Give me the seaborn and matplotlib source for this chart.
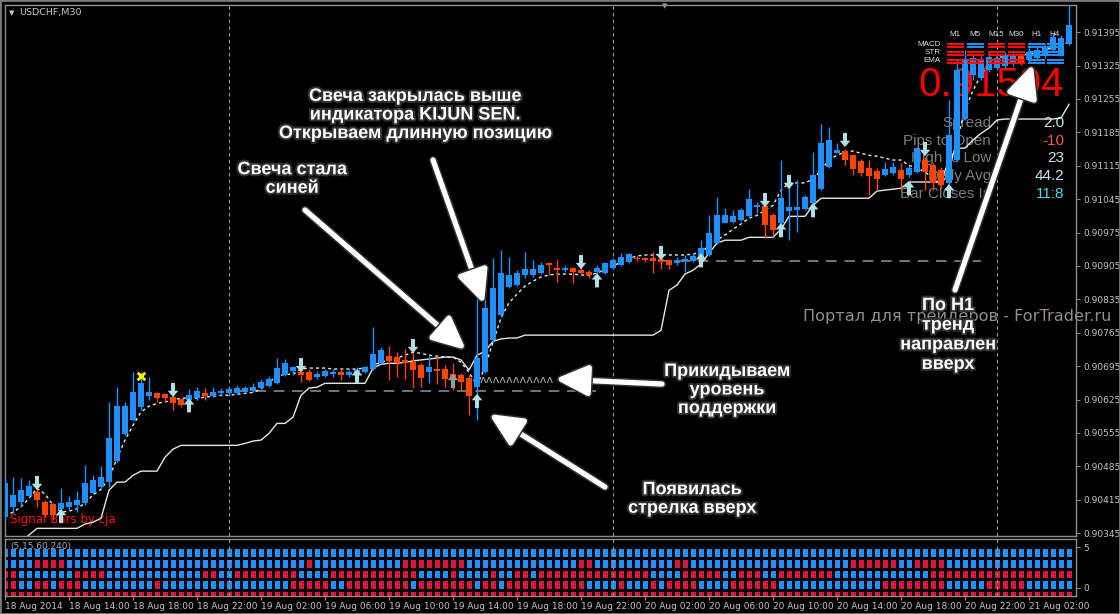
import numpy as np
import pandas as pd
import matplotlib
matplotlib.use("Agg")
import matplotlib.pyplot as plt
import matplotlib.transforms as mtransforms
import matplotlib.patheffects as pe
from matplotlib.path import Path
from matplotlib.colors import ListedColormap
from matplotlib.patches import Rectangle
import seaborn as sns

# ---- USDCHF M30 candles ----
opens = [0.90379, 0.90400, 0.90410, 0.90423, 0.90431, 0.90410, 0.90406, 0.90396, 0.90400, 0.90404,
         0.90408, 0.90429, 0.90441, 0.90452, 0.90496, 0.90553, 0.90582, 0.90609, 0.90632, 0.90638,
         0.90636, 0.90630, 0.90626, 0.90624, 0.90628, 0.90638, 0.90632, 0.90638, 0.90638, 0.90638,
         0.90640, 0.90643, 0.90649, 0.90653, 0.90659, 0.90676, 0.90685, 0.90682, 0.90682, 0.90672,
         0.90674, 0.90678, 0.90682, 0.90676, 0.90678, 0.90682, 0.90689, 0.90701, 0.90716, 0.90714,
         0.90708, 0.90703, 0.90697, 0.90682, 0.90689, 0.90689, 0.90678, 0.90676, 0.90670, 0.90651,
         0.90682, 0.90750, 0.90802, 0.90861, 0.90865, 0.90886, 0.90886, 0.90890, 0.90911, 0.90900,
         0.90896, 0.90900, 0.90896, 0.90892, 0.90892, 0.90890, 0.90900, 0.90907, 0.90913, 0.90921,
         0.90921, 0.90921, 0.90919, 0.90917, 0.90911, 0.90915, 0.90915, 0.90921, 0.90928, 0.90953,
         0.90995, 0.90997, 0.91001, 0.91009, 0.91028, 0.91030, 0.91011, 0.90995, 0.91020, 0.91022,
         0.91024, 0.91037, 0.91066, 0.91112, 0.91141, 0.91146, 0.91137, 0.91125, 0.91110, 0.91104,
         0.91095, 0.91100, 0.91106, 0.91095, 0.91102, 0.91127, 0.91116, 0.91106, 0.91079, 0.91127,
         0.91213, 0.91305, 0.91299, 0.91315, 0.91320, 0.91324, 0.91328, 0.91345, 0.91336, 0.91341,
         0.91345, 0.91357, 0.91349, 0.91370]
highs = [0.90460, 0.90462, 0.90460, 0.90456, 0.90439, 0.90414, 0.90408, 0.90439, 0.90423, 0.90433,
         0.90488, 0.90467, 0.90486, 0.90620, 0.90651, 0.90620, 0.90682, 0.90682, 0.90672, 0.90640,
         0.90638, 0.90645, 0.90628, 0.90647, 0.90651, 0.90649, 0.90651, 0.90649, 0.90651, 0.90655,
         0.90653, 0.90659, 0.90668, 0.90674, 0.90712, 0.90710, 0.90695, 0.90687, 0.90689, 0.90685,
         0.90689, 0.90689, 0.90689, 0.90687, 0.90693, 0.90695, 0.90777, 0.90735, 0.90737, 0.90724,
         0.90731, 0.90722, 0.90701, 0.90716, 0.90716, 0.90697, 0.90701, 0.90680, 0.90676, 0.90838,
         0.90871, 0.90921, 0.90938, 0.90923, 0.90896, 0.90934, 0.90917, 0.90913, 0.90913, 0.90917,
         0.90905, 0.90903, 0.90913, 0.90896, 0.90907, 0.90913, 0.90921, 0.90932, 0.90932, 0.90926,
         0.90923, 0.90934, 0.90932, 0.90919, 0.90923, 0.90928, 0.90932, 0.90959, 0.91011, 0.91049,
         0.91026, 0.91022, 0.91026, 0.91066, 0.91039, 0.91049, 0.91016, 0.91127, 0.91085, 0.91085,
         0.91053, 0.91144, 0.91202, 0.91196, 0.91162, 0.91150, 0.91137, 0.91129, 0.91127, 0.91110,
         0.91123, 0.91123, 0.91121, 0.91116, 0.91154, 0.91133, 0.91121, 0.91112, 0.91253, 0.91336,
         0.91357, 0.91347, 0.91345, 0.91353, 0.91347, 0.91353, 0.91357, 0.91351, 0.91361, 0.91366,
         0.91370, 0.91393, 0.91389, 0.91452]
lows = [0.90372, 0.90387, 0.90400, 0.90421, 0.90400, 0.90379, 0.90372, 0.90379, 0.90393, 0.90389,
        0.90404, 0.90427, 0.90439, 0.90441, 0.90494, 0.90550, 0.90580, 0.90603, 0.90624, 0.90620,
        0.90620, 0.90603, 0.90609, 0.90609, 0.90624, 0.90624, 0.90630, 0.90632, 0.90634, 0.90636,
        0.90638, 0.90640, 0.90647, 0.90651, 0.90657, 0.90674, 0.90676, 0.90661, 0.90664, 0.90668,
        0.90672, 0.90672, 0.90666, 0.90672, 0.90672, 0.90680, 0.90687, 0.90699, 0.90666, 0.90672,
        0.90668, 0.90649, 0.90651, 0.90659, 0.90657, 0.90651, 0.90645, 0.90645, 0.90592, 0.90582,
        0.90680, 0.90745, 0.90798, 0.90859, 0.90863, 0.90880, 0.90882, 0.90888, 0.90886, 0.90871,
        0.90892, 0.90869, 0.90886, 0.90880, 0.90880, 0.90888, 0.90898, 0.90905, 0.90911, 0.90915,
        0.90913, 0.90890, 0.90898, 0.90898, 0.90907, 0.90892, 0.90913, 0.90917, 0.90926, 0.90951,
        0.90995, 0.90995, 0.90999, 0.91007, 0.91016, 0.90963, 0.90965, 0.90993, 0.90959, 0.90976,
        0.91022, 0.91034, 0.91064, 0.91110, 0.91141, 0.91116, 0.91095, 0.91093, 0.91053, 0.91064,
        0.91093, 0.91095, 0.91064, 0.91091, 0.91100, 0.91064, 0.91064, 0.91068, 0.91077, 0.91123,
        0.91211, 0.91294, 0.91294, 0.91311, 0.91315, 0.91320, 0.91324, 0.91326, 0.91332, 0.91336,
        0.91341, 0.91353, 0.91345, 0.91368]
closes = [0.90450, 0.90425, 0.90435, 0.90444, 0.90414, 0.90383, 0.90383, 0.90408, 0.90410, 0.90414,
          0.90450, 0.90456, 0.90462, 0.90544, 0.90611, 0.90611, 0.90640, 0.90659, 0.90640, 0.90628,
          0.90628, 0.90617, 0.90613, 0.90634, 0.90643, 0.90632, 0.90640, 0.90643, 0.90647, 0.90649,
          0.90649, 0.90651, 0.90661, 0.90668, 0.90691, 0.90701, 0.90693, 0.90676, 0.90666, 0.90678,
          0.90685, 0.90682, 0.90676, 0.90682, 0.90687, 0.90693, 0.90720, 0.90729, 0.90706, 0.90701,
          0.90701, 0.90687, 0.90670, 0.90693, 0.90685, 0.90668, 0.90672, 0.90661, 0.90632, 0.90712,
          0.90817, 0.90859, 0.90890, 0.90886, 0.90890, 0.90898, 0.90898, 0.90907, 0.90907, 0.90896,
          0.90900, 0.90892, 0.90890, 0.90886, 0.90900, 0.90911, 0.90917, 0.90923, 0.90930, 0.90919,
          0.90917, 0.90915, 0.90913, 0.90907, 0.90917, 0.90919, 0.90926, 0.90942, 0.90974, 0.91011,
          0.91011, 0.91009, 0.91022, 0.91045, 0.91032, 0.90991, 0.90980, 0.91047, 0.91028, 0.91028,
          0.91049, 0.91095, 0.91162, 0.91169, 0.91148, 0.91127, 0.91108, 0.91100, 0.91093, 0.91087,
          0.91108, 0.91112, 0.91087, 0.91110, 0.91152, 0.91102, 0.91079, 0.91074, 0.91179, 0.91315,
          0.91338, 0.91341, 0.91336, 0.91343, 0.91341, 0.91347, 0.91347, 0.91332, 0.91353, 0.91357,
          0.91364, 0.91385, 0.91382, 0.91410]

# Kijun-sen (solid) and the dotted signal line
kijun = [0.90309, 0.90318, 0.90328, 0.90341, 0.90355, 0.90355, 0.90355, 0.90355, 0.90355, 0.90355,
         0.90364, 0.90368, 0.90376, 0.90435, 0.90452, 0.90452, 0.90466, 0.90475, 0.90475, 0.90475,
         0.90504, 0.90521, 0.90529, 0.90529, 0.90529, 0.90529, 0.90529, 0.90529, 0.90529, 0.90529,
         0.90533, 0.90538, 0.90540, 0.90554, 0.90575, 0.90575, 0.90588, 0.90634, 0.90649, 0.90651,
         0.90659, 0.90659, 0.90659, 0.90659, 0.90659, 0.90659, 0.90691, 0.90699, 0.90701, 0.90701,
         0.90703, 0.90706, 0.90708, 0.90710, 0.90712, 0.90714, 0.90714, 0.90708, 0.90687, 0.90718,
         0.90726, 0.90747, 0.90752, 0.90754, 0.90754, 0.90760, 0.90760, 0.90760, 0.90760, 0.90760,
         0.90760, 0.90760, 0.90760, 0.90760, 0.90760, 0.90760, 0.90760, 0.90760, 0.90760, 0.90760,
         0.90760, 0.90760, 0.90770, 0.90854, 0.90865, 0.90888, 0.90896, 0.90909, 0.90932, 0.90953,
         0.90959, 0.90959, 0.90959, 0.90965, 0.90965, 0.90965, 0.90965, 0.90982, 0.91009, 0.91009,
         0.91009, 0.91032, 0.91047, 0.91047, 0.91047, 0.91047, 0.91047, 0.91047, 0.91047, 0.91062,
         0.91064, 0.91066, 0.91068, 0.91081, 0.91081, 0.91081, 0.91081, 0.91081, 0.91127, 0.91152,
         0.91152, 0.91169, 0.91183, 0.91194, 0.91211, 0.91213, 0.91213, 0.91213, 0.91213, 0.91213,
         0.91213, 0.91213, 0.91215, 0.91244]
signal_line = [0.90381, 0.90389, 0.90400, 0.90418, 0.90439, 0.90427, 0.90404, 0.90389, 0.90391, 0.90396,
               0.90408, 0.90425, 0.90437, 0.90460, 0.90502, 0.90540, 0.90571, 0.90599, 0.90611, 0.90617,
               0.90620, 0.90624, 0.90628, 0.90628, 0.90628, 0.90630, 0.90632, 0.90634, 0.90634, 0.90636,
               0.90638, 0.90640, 0.90647, 0.90661, 0.90674, 0.90678, 0.90678, 0.90689, 0.90691, 0.90691,
               0.90691, 0.90689, 0.90689, 0.90689, 0.90689, 0.90691, 0.90697, 0.90703, 0.90708, 0.90712,
               0.90718, 0.90724, 0.90722, 0.90718, 0.90716, 0.90714, 0.90714, 0.90703, 0.90682, 0.90655,
               0.90693, 0.90745, 0.90796, 0.90828, 0.90846, 0.90863, 0.90873, 0.90882, 0.90886, 0.90888,
               0.90888, 0.90888, 0.90886, 0.90886, 0.90890, 0.90898, 0.90905, 0.90913, 0.90921, 0.90926,
               0.90928, 0.90928, 0.90928, 0.90928, 0.90928, 0.90928, 0.90930, 0.90934, 0.90947, 0.90959,
               0.90970, 0.90982, 0.90993, 0.91005, 0.91011, 0.91022, 0.91032, 0.91064, 0.91079, 0.91079,
               0.91079, 0.91087, 0.91106, 0.91127, 0.91137, 0.91144, 0.91146, 0.91141, 0.91137, 0.91135,
               0.91131, 0.91127, 0.91127, 0.91116, 0.91110, 0.91102, 0.91089, 0.91074, 0.91106, 0.91169,
               0.91232, 0.91273, 0.91305, 0.91332, 0.91341, 0.91345, 0.91347, 0.91347, 0.91349, 0.91353,
               0.91357, 0.91364, 0.91368, 0.91374]

# signal arrows (bar index, price)
down_bars = [4, 21, 37, 51, 72, 82, 95, 98, 105, 115]
down_prices = [0.90450, 0.90645, 0.90697, 0.90737, 0.90913, 0.90932, 0.91043, 0.91081, 0.91169, 0.91150]
up_bars = [7, 23, 44, 59, 74, 87, 97, 101, 113, 118]
up_prices = [0.90381, 0.90613, 0.90674, 0.90622, 0.90875, 0.90917, 0.90980, 0.91022, 0.91068, 0.91062]
grey_up_bars = [56]
grey_up_prices = [0.90664]
cross_bars = [17]
cross_prices = [0.90674]

support_level = 0.90643
support_from, support_to = 29, 74
h1_level = 0.90915
h1_from, h1_to = 82, 122

price_ticks = [0.90345, 0.90415, 0.90485, 0.90555, 0.90625, 0.90695, 0.90765, 0.90835,
               0.90905, 0.90975, 0.91045, 0.91115, 0.91185, 0.91255, 0.91325, 0.91395]
time_labels = ["18 Aug 2014", "18 Aug 14:00", "18 Aug 18:00", "18 Aug 22:00", "19 Aug 02:00",
               "19 Aug 06:00", "19 Aug 10:00", "19 Aug 14:00", "19 Aug 18:00", "19 Aug 22:00",
               "20 Aug 02:00", "20 Aug 06:00", "20 Aug 10:00", "20 Aug 14:00", "20 Aug 18:00",
               "20 Aug 22:00", "21 Aug 02:00"]
time_tick_bars = [0, 8, 16, 24, 32, 40, 48, 56, 64, 72, 80, 88, 96, 104, 112, 120, 128]
day_breaks = [28, 76, 124]

# lower window: signal bars (5,15,60,240), b = up, r = down
strength_rows = [
    "bbbbbbbbbb bbbbbbbbbb bbbbbbbbbb bbbbbbbbbb bbbbbbbbbb bbbbbbbbbb bbbbbbbbbb "
    "bbbbbbbbbb bbbbbbbbbb bbbbbbbbbb bbbbbbbbbb bbbbbbbbbb bbbbbbbbbb bbbb",
    "bbbbrrrrbb bbbbbbbbbb bbbbbbbbbb bbbbbbbbrb bbbbbbbbbb rrrrrrrrbb bbbbbbbbbb "
    "bbrrbbbbbb bbbbrrbbbb bbbbbbbbbb bbbbbbrrrr rrbbrrrrbb bbbbbbbbbb bbbb",
    "rrbbbbbbbr rrrbbbbbbb bbbbbrrbbr rrrrrrrbbb brrrrrrrrr rrbbbbrbbb brbbrrbrrr "
    "rrrrrrrrrr rbbbbrrrrr bbrrrbbrrr rrrrbbbbbb bbbbbbrrrr rrrrrrrrrr rrrr",
    "rrbbrrbrrr bbbbbbbbbr bbbbbbbbbb bbbbbbrrrr rbbrrrrrrr rbrrrrrrrb rrbrrrrrrr "
    "rrrbbbbrbb brbrrrrbbb brrrrrrbbb bbbbbbbbbb rrrrrrrrbb bbbrrrrrbb bbbb",
    "rrrrrrrrrr rrrrrrrrrr rrrrrrrrrr rrrrrrrrrr rrrrrrrrrr rrrrrrrrrr rrrrrrrrrr "
    "rrrrrrrrrr rrrrrrrrrr rrrrrrrrrr rrrrrrrrrr rrrrrrrrrr rrrrrrrrrr rrrr",
]

# multi timeframe panel
tf_names = ["M1", "M5", "M15", "M30", "H1", "H4"]
tf_rows = ["MACD", "STR", "EMA"]
tf_states = ["rbrrbb", "rrrrbb", "rrrrbb"]
info_labels = ["Spread", "Pips to Open", "High to Low", "Daily Avg", "Bar Closes In"]
info_values = ["2.0", "-10", "23", "44.2", "11:8"]
info_colors = ["#c8e4ec", "#f05a46", "#c8e4ec", "#c8e4ec", "#46dce6"]
last_price = "0.91594"

BLUE = "#1e90ff"
ORANGE = "#ff4500"
RED = "#dc143c"
ARROW = "#b0e0e6"
FRAME = "#8c8c8c"

W, H = 1120, 614
fig = plt.figure(figsize=(W / 100, H / 100), dpi=100, facecolor="black")


def box(x0, y0, x1, y1):
    return [x0 / W, 1 - y1 / H, (x1 - x0) / W, (y1 - y0) / H]


ax = fig.add_axes(box(5, 5, 1076, 536))
ax2 = fig.add_axes(box(5, 539, 1076, 596))
# pixel coordinates measured from the top-left corner of the picture
px = mtransforms.Affine2D().scale(1 / W, -1 / H).translate(0, 1) + fig.transFigure

df = pd.DataFrame({"bar": np.arange(len(opens)), "open": opens, "high": highs,
                   "low": lows, "close": closes, "kijun": kijun, "signal": signal_line})
bull = df["close"] >= df["open"]
colors = np.where(bull, BLUE, ORANGE)

ax.set_facecolor("black")
for b in day_breaks:
    ax.axvline(b, color="#9a9a9a", lw=0.8, ls=(0, (3, 3)), zorder=0.5)

ax.hlines(support_level, support_from, support_to, colors="#8796a5", lw=1.1,
          linestyles=(0, (7, 5)), zorder=1)
ax.hlines(h1_level, h1_from, h1_to, colors="#8796a5", lw=1.1,
          linestyles=(0, (7, 5)), zorder=1)

sns.lineplot(data=df, x="bar", y="kijun", color="#e6e6e6", lw=1.0, ax=ax, zorder=2)
sns.lineplot(data=df, x="bar", y="signal", color="#dcecf0", lw=1.0, ax=ax, zorder=2)
ax.lines[-1].set_dashes([2.2, 2.2])

# candles
ax.vlines(df["bar"], df["low"], df["high"], colors=colors, lw=1.0, zorder=3)
body_lo = np.minimum(df["open"], df["close"])
body_h = np.maximum((df["close"] - df["open"]).abs(), 0.00003)
ax.bar(df["bar"], body_h, bottom=body_lo, width=0.64, color=colors, lw=0, zorder=3.2)

# arrows
up_path = Path([(0, 1), (0.75, 0.1), (0.28, 0.1), (0.28, -1), (-0.28, -1),
                (-0.28, 0.1), (-0.75, 0.1), (0, 1)],
               [Path.MOVETO] + [Path.LINETO] * 6 + [Path.CLOSEPOLY])
down_path = Path(up_path.vertices * [1, -1], up_path.codes)
sns.scatterplot(x=down_bars, y=down_prices, marker=down_path, s=105, color=ARROW,
                edgecolor="none", ax=ax, zorder=4)
sns.scatterplot(x=up_bars, y=up_prices, marker=up_path, s=105, color=ARROW,
                edgecolor="none", ax=ax, zorder=4)
sns.scatterplot(x=grey_up_bars, y=grey_up_prices, marker=up_path, s=105, color="#9a9a9a",
                edgecolor="none", ax=ax, zorder=4)
sns.scatterplot(x=cross_bars, y=cross_prices, marker="x", s=30, color="#ffff00",
                linewidth=2, ax=ax, zorder=4)

ax.set_xlim(0, 133.875)
ax.set_ylim(0.90339, 0.91452)
ax.set_xlabel("")
ax.set_ylabel("")
ax.set_xticks([])
ax.yaxis.tick_right()
ax.set_yticks(price_ticks)
ax.set_yticklabels([f"{p:.5f}" for p in price_ticks])
ax.tick_params(axis="y", colors=FRAME, labelcolor="#c4c4c4", labelsize=6.5, length=3, pad=2)
for s in ax.spines.values():
    s.set_color(FRAME)
    s.set_linewidth(1)

# lower window
mat = np.array([[1 if c == "b" else 0 for c in row.replace(" ", "")] for row in strength_rows])
sns.heatmap(mat, ax=ax2, cmap=ListedColormap([RED, BLUE]), vmin=0, vmax=1, cbar=False,
            linewidths=0.9, linecolor="black", xticklabels=False, yticklabels=False)
ax2.set_facecolor("black")
ax2.set_xlim(0.5, 134.375)
ax2.set_ylim(4.55, -0.75)
for b in day_breaks:
    ax2.axvline(b + 0.5, color="#9a9a9a", lw=0.8, ls=(0, (3, 3)), zorder=5)
ax2.set_xticks([b + 0.5 for b in time_tick_bars])
ax2.set_xticklabels(time_labels)
for lab in ax2.get_xticklabels():
    lab.set_horizontalalignment("left")
ax2.tick_params(axis="x", bottom=True, colors=FRAME, labelcolor="#c4c4c4", labelsize=6.5,
                length=3, pad=1.5)
ax2.yaxis.tick_right()
ax2.set_yticks([0.0, 3.8])
ax2.set_yticklabels(["5", "0"])
ax2.tick_params(axis="y", right=True, colors=FRAME, labelcolor="#c4c4c4", labelsize=6.5,
                length=3, pad=2, labelrotation=0)
for s in ax2.spines.values():
    s.set_visible(True)
    s.set_color(FRAME)
    s.set_linewidth(1)
ax2.text(10, 547, "(5,15,60,240)", transform=px, color="#a8a8a8", fontsize=6.5,
         va="center", zorder=6)

# chart texts drawn behind the candles
ax.text(19, 13, "USDCHF,M30", transform=px, color="#c8c8c8", fontsize=6.8, va="center", zorder=1)
ax.text(9, 13, "\u25bc", transform=px, color="#c8c8c8", fontsize=5, va="center", zorder=1)
ax.text(665, 6, "\u25bc", transform=px, color="#9a9a9a", fontsize=5, ha="center", va="center",
        zorder=1)
ax.text(10, 519, "Signal Bars by cja", transform=px, color="#ff1010", fontsize=8.5,
        va="center", zorder=1)
ax.text(803, 316, "Портал для трейдеров - ForTrader.ru", transform=px, color="#968c8c",
        fontsize=11.6, va="center", zorder=1)
ax.text(1064, 85, last_price, transform=px, color="#ff0000", fontsize=29, ha="right",
        va="center", family="Liberation Sans", zorder=1)
for k, (lab, val, col) in enumerate(zip(info_labels, info_values, info_colors)):
    y = 123 + 17.7 * k
    ax.text(991, y, lab, transform=px, color="#7c7c84", fontsize=11, ha="right", va="center",
            family="Liberation Sans", zorder=1)
    ax.text(1064, y, val, transform=px, color=col, fontsize=11, ha="right", va="center",
            family="Liberation Sans", zorder=1)

# projected support level marker (grey zigzag)
ax.text(480, 380, "\u028c" * 11, transform=px, color="#a8a8a8", fontsize=8.2, va="center",
        zorder=2)

# timeframe table
col_x = [947, 967, 988, 1008, 1028, 1047]
row_y = [43, 51, 59]
for name, x0 in zip(tf_names, col_x):
    ax.text(x0 + 8, 34, name, transform=px, color="#e0e0e0", fontsize=5.8, ha="center",
            va="center", family="Liberation Sans", zorder=6)
for rname, states, y0 in zip(tf_rows, tf_states, row_y):
    ax.text(941, y0 + 2, rname, transform=px, color="#e0e0e0", fontsize=5.8, ha="right",
            va="center", family="Liberation Sans", zorder=6)
    for st, x0 in zip(states, col_x):
        c = BLUE if st == "b" else "#ff0a0a"
        for dy in (0, 2.6):
            ax.add_patch(Rectangle((x0, y0 + dy), 17, 2.0, transform=px, color=c, lw=0,
                                   clip_on=False, zorder=6))

# annotations
shadow = [pe.withStroke(linewidth=3, foreground="#303030")]
note_kw = dict(transform=px, color="white", fontsize=13, fontweight="bold", ha="center",
               va="center", family="Liberation Sans", linespacing=1.12, zorder=10,
               path_effects=shadow)
ax.text(415, 115, "Свеча закрылась выше\nиндикатора KIJUN SEN.\nОткрываем длинную позицию", **note_kw)
ax.text(292, 179, "Свеча стала\nсиней", **note_kw)
ax.text(727, 390, "Прикидываем\nуровень\nподдержки", **note_kw)
ax.text(692, 499, "Появилась\nстрелка вверх", **note_kw)
ax.text(948, 335, "По H1\nтренд\nнаправлен\nвверх", **{**note_kw, "linespacing": 1.2})

arrow_kw = dict(arrowstyle="-|>,head_length=0.9,head_width=0.42", color="white", lw=3.8,
                mutation_scale=22, shrinkA=0, shrinkB=0,
                path_effects=[pe.withStroke(linewidth=6, foreground="#303030")])
for tail, head in [((433, 160), (484, 304)), ((305, 210), (466, 350)),
                   ((662, 384), (555, 379)), ((605, 487), (489, 414)),
                   ((955, 290), (1033, 64))]:
    ax.annotate("", xy=head, xytext=tail, xycoords=px, textcoords=px,
                arrowprops=arrow_kw, annotation_clip=False, zorder=10)

fig.add_artist(Rectangle((0, 0), 1, 1, transform=fig.transFigure, fill=False,
                         edgecolor="#7a7a7a", lw=2))
fig.savefig("out.png", dpi=100, facecolor="black")
